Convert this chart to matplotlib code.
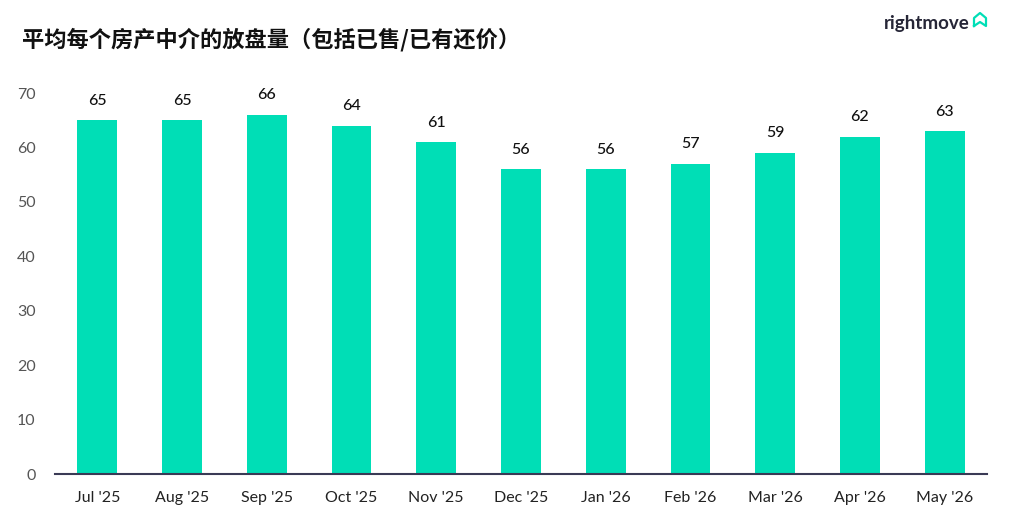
import matplotlib
matplotlib.use("Agg")
import matplotlib.pyplot as plt
from matplotlib.lines import Line2D

plt.rcParams['font.family'] = ['Lato', 'Noto Sans CJK SC', 'DejaVu Sans']

months = ["Jul '25", "Aug '25", "Sep '25", "Oct '25", "Nov '25", "Dec '25",
          "Jan '26", "Feb '26", "Mar '26", "Apr '26", "May '26"]
values = [65, 65, 66, 64, 61, 56, 56, 57, 59, 62, 63]
title = "平均每个房产中介的放盘量（包括已售/已有还价）"
yticks = [0, 10, 20, 30, 40, 50, 60, 70]

fig = plt.figure(figsize=(10.31, 5.32), dpi=100)
ax = fig.add_axes([0.0533, 0.109, 0.904, 0.716])
x = range(len(months))
bars = ax.bar(x, values, width=0.47, color="#00deb6", zorder=2)
for xi, v in zip(x, values):
    ax.text(xi, v + 2.3, str(v), ha='center', va='bottom', fontsize=11.5, color='#111111',
            fontweight='medium')

ax.set_xlim(-0.5, len(months) - 0.5)
ax.set_ylim(0, 70)
ax.set_yticks(yticks)
ax.set_xticks(list(x))
ax.set_xticklabels(months)
for s in ['top', 'right', 'left']:
    ax.spines[s].set_visible(False)
ax.spines['bottom'].set_color('#3a3a55')
ax.spines['bottom'].set_linewidth(1.5)
ax.tick_params(axis='both', length=0, labelsize=11.5, colors='#555555')
ax.tick_params(axis='x', pad=12, colors='#222222')
ax.tick_params(axis='y', pad=14)

fig.text(0.021, 0.925, title, fontsize=16, fontweight='bold', color='#111111', va='center',
         family=['Noto Sans CJK SC', 'DejaVu Sans'])
fig.text(0.857, 0.955, "rightmove", fontsize=13.5, fontweight='bold', color='#262637', va='center')
# small house outline logo
W, H = 1031, 532
px = [974, 974, 980, 986, 986, 980, 974]
py = [26, 18, 13, 18, 26, 22, 26]
fig.add_artist(Line2D([p / W for p in px], [1 - q / H for q in py], transform=fig.transFigure,
                      color='#00deb6', lw=1.6, solid_joinstyle='round'))

fig.savefig("out.png", dpi=100)
